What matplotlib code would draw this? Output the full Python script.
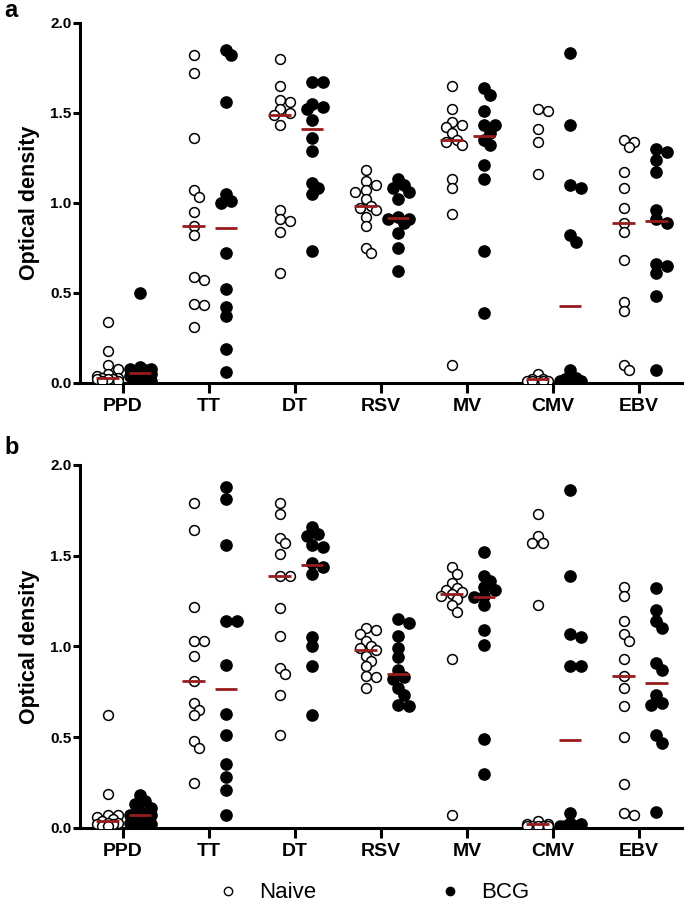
import numpy as np
import matplotlib
matplotlib.use('Agg')
import matplotlib.pyplot as plt
from matplotlib.lines import Line2D

plt.rcParams['font.family'] = ['Liberation Sans', 'DejaVu Sans']

# antigens on the x axis
antigens = ['PPD', 'TT', 'DT', 'RSV', 'MV', 'CMV', 'EBV']

# panel a - optical density per antigen
naive_a = [
    [0.34, 0.18, 0.10, 0.08, 0.05, 0.04, 0.03, 0.03, 0.02, 0.02, 0.02, 0.01, 0.01],
    [1.82, 1.72, 1.36, 1.07, 1.03, 0.95, 0.87, 0.82, 0.59, 0.57, 0.44, 0.43, 0.31],
    [1.80, 1.65, 1.57, 1.56, 1.52, 1.50, 1.49, 1.43, 0.96, 0.91, 0.90, 0.84, 0.61],
    [1.18, 1.12, 1.10, 1.07, 1.06, 1.02, 0.98, 0.97, 0.96, 0.92, 0.87, 0.75, 0.72],
    [1.65, 1.52, 1.45, 1.43, 1.42, 1.39, 1.35, 1.34, 1.32, 1.13, 1.08, 0.94, 0.10],
    [1.52, 1.51, 1.41, 1.34, 1.16, 0.05, 0.02, 0.02, 0.01, 0.01, 0.01, 0.01, 0.01],
    [1.35, 1.34, 1.31, 1.17, 1.08, 0.97, 0.89, 0.84, 0.68, 0.45, 0.40, 0.10, 0.07],
]
bcg_a = [
    [0.50, 0.09, 0.08, 0.08, 0.07, 0.06, 0.05, 0.05, 0.04, 0.03, 0.02, 0.01],
    [1.85, 1.82, 1.56, 1.05, 1.01, 1.00, 0.72, 0.52, 0.42, 0.37, 0.19, 0.06],
    [1.67, 1.67, 1.55, 1.53, 1.52, 1.46, 1.36, 1.29, 1.11, 1.08, 1.05, 0.73],
    [1.13, 1.10, 1.08, 1.06, 1.02, 0.92, 0.91, 0.91, 0.89, 0.83, 0.75, 0.62],
    [1.64, 1.60, 1.51, 1.43, 1.43, 1.39, 1.35, 1.32, 1.21, 1.13, 0.73, 0.39],
    [1.83, 1.43, 1.10, 1.08, 0.82, 0.78, 0.07, 0.03, 0.02, 0.01, 0.01, 0.01],
    [1.30, 1.28, 1.24, 1.17, 0.96, 0.91, 0.89, 0.66, 0.65, 0.61, 0.48, 0.07],
]

# panel b
naive_b = [
    [0.62, 0.19, 0.07, 0.07, 0.06, 0.05, 0.04, 0.03, 0.03, 0.02, 0.02, 0.01, 0.01],
    [1.79, 1.64, 1.22, 1.03, 1.03, 0.95, 0.81, 0.69, 0.65, 0.62, 0.48, 0.44, 0.25],
    [1.79, 1.73, 1.60, 1.57, 1.51, 1.39, 1.39, 1.21, 1.06, 0.88, 0.85, 0.73, 0.51],
    [1.10, 1.09, 1.07, 1.03, 1.00, 0.99, 0.98, 0.95, 0.92, 0.89, 0.84, 0.83, 0.77],
    [1.44, 1.40, 1.35, 1.32, 1.31, 1.30, 1.29, 1.28, 1.26, 1.23, 1.19, 0.93, 0.07],
    [1.73, 1.61, 1.57, 1.57, 1.23, 0.04, 0.02, 0.02, 0.01, 0.01, 0.01, 0.01, 0.01],
    [1.33, 1.28, 1.14, 1.07, 1.03, 0.93, 0.84, 0.77, 0.67, 0.50, 0.24, 0.08, 0.07],
]
bcg_b = [
    [0.18, 0.15, 0.13, 0.11, 0.09, 0.07, 0.07, 0.05, 0.04, 0.03, 0.02, 0.01],
    [1.88, 1.81, 1.56, 1.14, 1.14, 0.90, 0.63, 0.51, 0.35, 0.28, 0.21, 0.07],
    [1.66, 1.62, 1.61, 1.56, 1.55, 1.46, 1.44, 1.40, 1.05, 1.00, 0.89, 0.62],
    [1.15, 1.13, 1.06, 0.99, 0.94, 0.87, 0.83, 0.82, 0.77, 0.73, 0.68, 0.67],
    [1.52, 1.39, 1.36, 1.33, 1.31, 1.28, 1.27, 1.23, 1.09, 1.01, 0.49, 0.30],
    [1.86, 1.39, 1.07, 1.05, 0.89, 0.89, 0.08, 0.03, 0.02, 0.01, 0.01, 0.01],
    [1.32, 1.20, 1.14, 1.10, 0.91, 0.87, 0.73, 0.69, 0.68, 0.51, 0.47, 0.09],
]

red = '#981c1c'


def swarm(vals, xpx=86.0, ypx=180.0, d=10.5):
    # simple beeswarm: push overlapping points sideways, a bit of overlap allowed
    placed = []
    offs = []
    steps = [0, 1, -1, 2, -2]
    for v in vals:
        best, best_gap = 0.0, -1
        for k in steps:
            ox = k * d / 2.0
            gap = min([np.hypot(ox - px, (v - pv) * ypx) for px, pv in placed] + [99])
            if gap >= 0.7 * d:
                best = ox
                break
            if gap > best_gap:
                best, best_gap = ox, gap
        placed.append((best, v))
        offs.append(best / xpx)
    return np.array(offs)


def panel(ax, naive, bcg):
    for i in range(len(antigens)):
        for vals, dx, face, s in [(naive[i], -0.18, 'white', 50), (bcg[i], 0.2, 'black', 64)]:
            vals = np.array(vals)
            x = i + dx + swarm(vals)
            ax.scatter(x, vals, s=s, facecolor=face, edgecolor='black', linewidth=1.1, zorder=3)
            m = np.median(vals)
            ax.hlines(m, i + dx - 0.13, i + dx + 0.13, color=red, lw=2, zorder=5)
    ax.set_xlim(-0.5, 6.5)
    ax.set_ylim(0, 2.0)
    ax.set_xticks(range(len(antigens)))
    ax.set_xticklabels(antigens, fontsize=14, fontweight='bold')
    ax.set_yticks([0, 0.5, 1.0, 1.5, 2.0])
    ax.set_yticklabels(['0.0', '0.5', '1.0', '1.5', '2.0'], fontsize=11, fontweight='bold')
    for side in ['top', 'right']:
        ax.spines[side].set_visible(False)
    for side in ['left', 'bottom']:
        ax.spines[side].set_linewidth(2.2)
    ax.tick_params(axis='y', length=5, width=2.2, pad=1)
    ax.tick_params(axis='x', length=7, width=2.2, pad=3.5)
    ax.patch.set_alpha(0)


fig = plt.figure(figsize=(6.85, 9.06), dpi=100)
ax1 = fig.add_axes([0.1168, 0.5773, 0.879, 0.3977])
ax2 = fig.add_axes([0.1168, 0.0861, 0.879, 0.4007])
panel(ax1, naive_a, bcg_a)
panel(ax2, naive_b, bcg_b)

fig.text(30 / 685, 1 - 203 / 906, 'Optical density', rotation=90, ha='center', va='center',
         fontsize=15.5, fontweight='bold')
fig.text(30 / 685, 1 - 647 / 906, 'Optical density', rotation=90, ha='center', va='center',
         fontsize=15.5, fontweight='bold')
fig.text(0.006, 1 - 17 / 906, 'a', fontsize=17, fontweight='bold', va='baseline')
fig.text(0.006, 1 - 454 / 906, 'b', fontsize=17, fontweight='bold', va='baseline')

handles = [Line2D([], [], marker='o', ls='', ms=6, mfc='white', mec='black', mew=1),
           Line2D([], [], marker='o', ls='', ms=6, mfc='black', mec='black')]
fig.legend(handles, ['Naive', 'BCG'], loc='center', bbox_to_anchor=(0.545, 1 - 893 / 906),
           ncol=2, frameon=False, fontsize=16, handlelength=1, handletextpad=0.9,
           columnspacing=5.5)

fig.savefig('out.png', dpi=100)
